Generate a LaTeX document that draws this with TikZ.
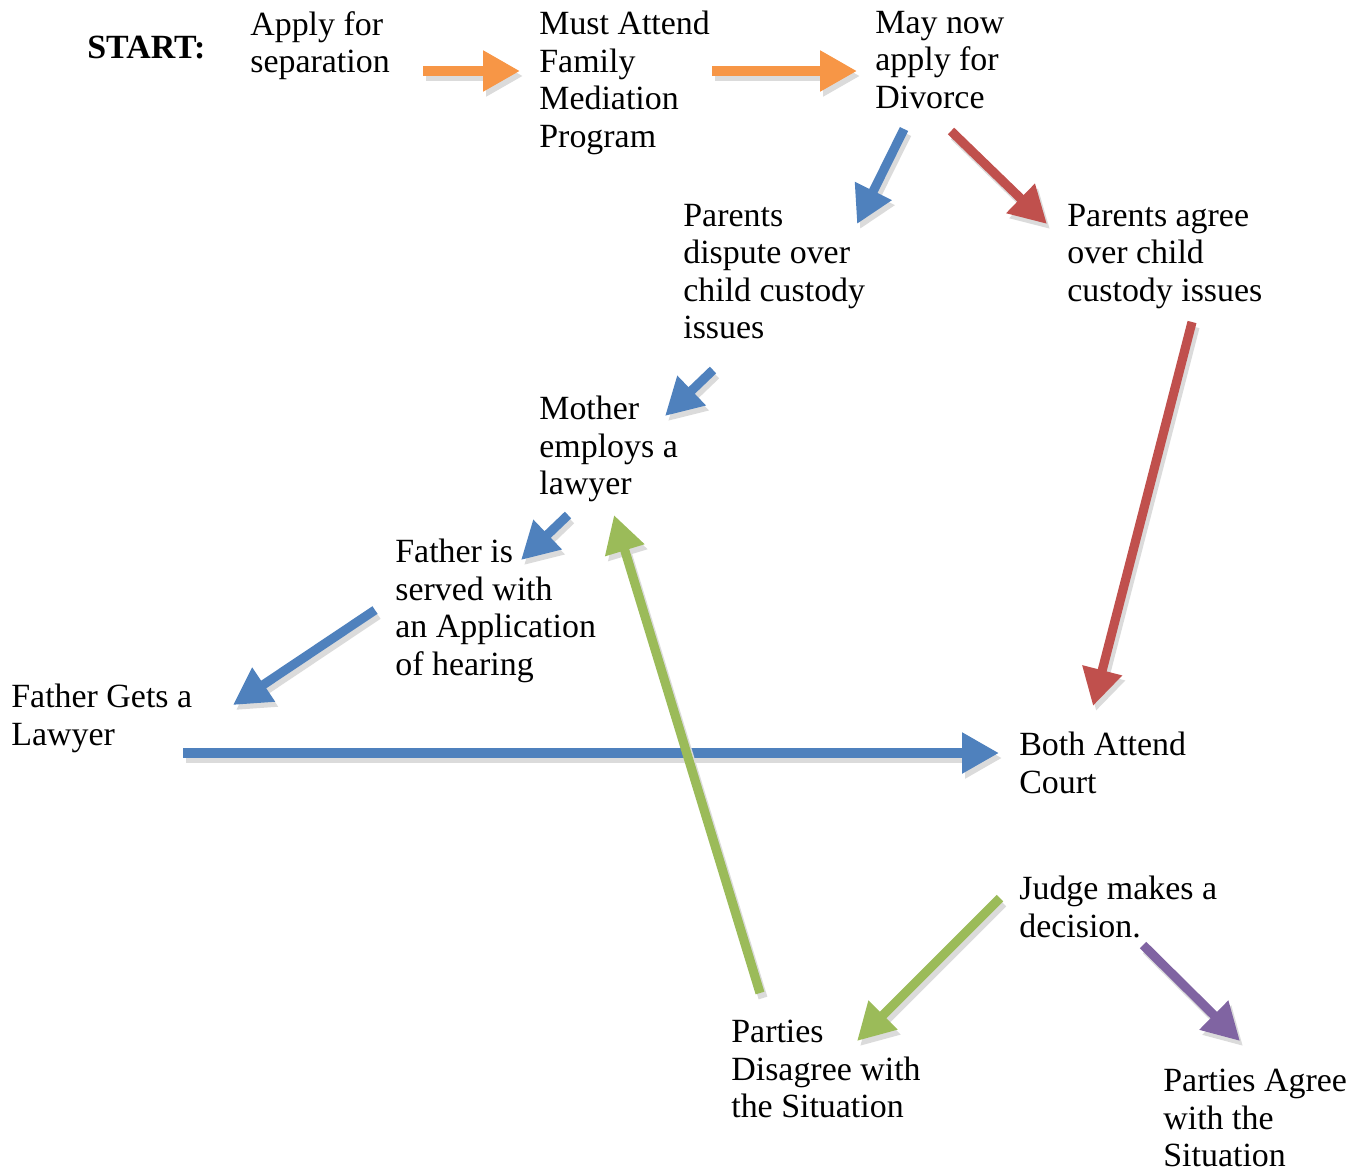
\documentclass[tikz,border=0pt]{standalone}
\usepackage{fontspec}
\setmainfont{Liberation Serif}
\usepackage{xcolor}
\usetikzlibrary{arrows.meta}
\definecolor{orng}{HTML}{F79646}
\definecolor{blu}{HTML}{4F81BD}
\definecolor{rd}{HTML}{C0504D}
\definecolor{grn}{HTML}{9BBB59}
\definecolor{prpl}{HTML}{8064A2}
\begin{document}
\begin{tikzpicture}[x=0.02cm,y=-0.02cm,
  txt/.style={anchor=north west,align=left,inner sep=0pt,font=\fontsize{19.3}{21.3}\selectfont},
  arr/.style={line width=5.2pt,-{Triangle[length=21pt,width=22pt]}},
  shade/.style={arr,black!14}]
\useasboundingbox (0,0) rectangle (1364,1167);

%labels
\node[txt,anchor=base west,font=\fontsize{19.3}{21.3}\selectfont\bfseries] (start) at (87,58) {START:};
\node[txt] (sep) at (250,11) {Apply for\\separation};
\node[txt] (med) at (539,11) {Must Attend\\Family\\Mediation\\Program};
\node[txt] (div) at (875,11) {May now\\apply for\\Divorce};
\node[txt] (disp) at (683,204) {Parents\\dispute over\\child custody\\issues};
\node[txt] (agr) at (1067,204) {Parents agree\\over child\\custody issues};
\node[txt] (moth) at (539,396) {Mother\\employs a\\lawyer};
\node[txt] (serv) at (395,539) {Father is\\served with\\an Application\\of hearing};
\node[txt] (fath) at (11,684) {Father Gets a\\Lawyer};
\node[txt] (court) at (1019,732) {Both Attend\\Court};
\node[txt] (judge) at (1019,876) {Judge makes a\\decision.};
\node[txt] (pdis) at (731,1020) {Parties\\Disagree with\\the Situation};
\node[txt] (pagr) at (1163,1069) {Parties Agree\\with the\\Situation};

%arrow ends
\coordinate (a1) at (423,71);  \coordinate (b1) at (520,71);
\coordinate (a2) at (712,71);  \coordinate (b2) at (857,71);
\coordinate (a3) at (904,129); \coordinate (b3) at (857,224);
\coordinate (a4) at (951,131); \coordinate (b4) at (1047,224);
\coordinate (a5) at (713,370); \coordinate (b5) at (665,416);
\coordinate (a6) at (568,515); \coordinate (b6) at (521,560);
\coordinate (a7) at (375,610); \coordinate (b7) at (233,705);
\coordinate (a8) at (183,753); \coordinate (b8) at (999,753);
\coordinate (a9) at (1192,322); \coordinate (b9) at (1093,706);
\coordinate (a10) at (760,993); \coordinate (b10) at (614,515);
\coordinate (a11) at (1000,898); \coordinate (b11) at (857,1041);
\coordinate (a12) at (1143,945); \coordinate (b12) at (1240,1041);

%arrows with shadow
\foreach \i/\c in {1/orng,2/orng,3/blu,4/rd,5/blu,6/blu,7/blu,8/blu,9/rd,10/grn,11/grn,12/prpl}{
  \draw[shade] ([shift={(3,5)}]a\i) -- ([shift={(3,5)}]b\i);
  \draw[arr,\c] (a\i) -- (b\i);
}
\end{tikzpicture}
\end{document}
